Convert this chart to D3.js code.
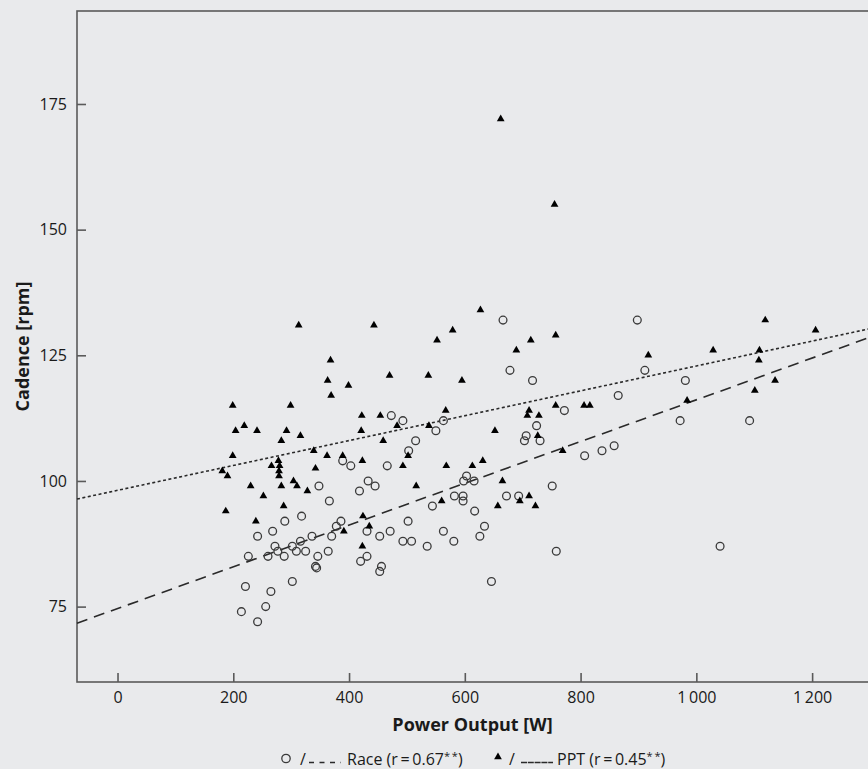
<!DOCTYPE html>
<html>
<head>
<meta charset="utf-8">
<script src="https://cdn.jsdelivr.net/npm/d3@7"></script>
<style>
  html, body { margin: 0; padding: 0; background: #e9eaec; }
  #chart { width: 868px; height: 769px; }
  text { font-family: "Open Sans", "Noto Sans", sans-serif; fill: #1a1a1a; }
</style>
</head>
<body>
<div id="chart"></div>
<script>
// Race: [power W, cadence rpm]
let racePoints = [
    [389,104],[403,103],[348,99],[366,96],[418,98],[433,100],[318,93],[289,92],[268,90],[242,89],
    [336,89],[370,89],[378,91],[386,92],[431,90],[272,87],[277,86],[302,87],[316,88],[309,86],
    [325,86],[288,85],[260,85],[226,85],[346,85],[364,86],[342,83],[344,82.7],[431,85],[420,84],
    [221,79],[265,78],[302,80],[256,75],[214,74],[242,72],[666,132],[678,122],[717,120],[473,113],
    [493,112],[563,112],[550,110],[515,108],[503,106],[724,111],[706,109],[703,108],[730,108],[466,103],
    [445,99],[603,101],[598,100],[616,100],[582,97],[597,97],[597,96],[544,95],[617,94],[672,97],
    [693,97],[751,99],[502,92],[453,89],[471,90],[493,88],[508,88],[535,87],[563,90],[581,88],
    [634,91],[626,89],[456,83],[453,82],[646,80],[758,86],[898,132],[911,122],[981,120],[865,117],
    [972,112],[1092,112],[858,107],[837,106],[807,105],[772,114],[1041,87]
];

// PPT: [power W, cadence rpm]
let pptPoints = [
    [313,131],[368,124],[363,120],[399,119],[369,117],[199,115],[299,115],[422,113],[204,110],[219,111],
    [241,110],[292,110],[316,109],[283,108],[421,110],[199,105],[339,106],[362,105],[389,105],[423,104],
    [278,104],[266,103],[280,103],[279,102],[279,101],[342,102.5],[181,102],[190,101],[230,99],[283,99],
    [304,100],[310,99],[328,98],[252,97],[287,95],[187,94],[239,92],[391,90],[424,93],[423,87],
    [435,91],[443,131],[627,134],[579,130],[552,128],[714,128],[757,129],[689,126],[470,121],[537,121],
    [595,120],[454,113],[567,114],[711,114],[708,113],[728,113],[757,115],[483,111],[538,111],[459,108],
    [652,110],[502,105],[726,109],[493,103],[568,103],[613,103],[631,104],[516,99],[560,96],[665,100],
    [657,95],[695,96],[711,97],[722,95],[1119,132],[1206,130],[917,125],[1029,126],[1109,126],[1108,124],
    [1136,120],[1101,118],[984,116],[806,115],[816,115],[769,106],[662,172],[755,155]
];

// fit lines, end points read at the plot edges
let raceFit = [[-70, 71.7], [1300, 128.6]];
let pptFit = [[-70, 96.4], [1300, 130.3]];

let xTicks = [0, 200, 400, 600, 800, 1000, 1200];
let yTicks = [75, 100, 125, 150, 175];
let xDomain = [-70, 1300];
let yDomain = [60, 193.5];

function draw_chart() {
    let width = 868, height = 769;
    let left = 77, top = 11, bottom = 682;

    let svg = d3.select('#chart').append('svg')
        .attr('width', width)
        .attr('height', height);

    svg.append('rect')
        .attr('width', width).attr('height', height)
        .attr('fill', '#e9eaec');

    let x = d3.scaleLinear().domain(xDomain).range([left, width + 2]);
    let y = d3.scaleLinear().domain(yDomain).range([bottom, top]);

    // frame (right side runs off the picture)
    svg.append('rect')
        .attr('x', left).attr('y', top)
        .attr('width', width + 10 - left).attr('height', bottom - top)
        .attr('fill', 'none')
        .attr('stroke', '#5a5a5a')
        .attr('stroke-width', 1.6);

    let fmt = d => d >= 1000 ? d3.format('d')(d).replace(/(\d)(\d{3})$/, '$1\u2009$2') : d;

    let xAxis = svg.append('g')
        .attr('transform', `translate(0,${bottom})`)
        .call(d3.axisBottom(x).tickValues(xTicks).tickSize(-9).tickPadding(10).tickFormat(fmt));
    let yAxis = svg.append('g')
        .attr('transform', `translate(${left},0)`)
        .call(d3.axisLeft(y).tickValues(yTicks).tickSize(-9).tickPadding(10));

    [xAxis, yAxis].forEach(g => {
        g.select('.domain').remove();
        g.selectAll('line').attr('stroke', '#5a5a5a').attr('stroke-width', 1.6);
        g.selectAll('text').attr('font-size', 16).attr('fill', '#1a1a1a')
            .attr('font-family', '"Open Sans", "Noto Sans", sans-serif');
    });

    // axis titles
    svg.append('text')
        .attr('x', (left + width) / 2).attr('y', 731)
        .attr('text-anchor', 'middle')
        .attr('font-size', 18).attr('font-weight', 'bold')
        .text('Power Output [W]');
    svg.append('text')
        .attr('transform', `translate(29,${(top + bottom) / 2}) rotate(-90)`)
        .attr('text-anchor', 'middle')
        .attr('font-size', 18).attr('font-weight', 'bold')
        .text('Cadence [rpm]');

    let plot = svg.append('g');
    let line = d3.line().x(d => x(d[0])).y(d => y(d[1]));

    plot.append('path')
        .datum(pptFit)
        .attr('d', line)
        .attr('fill', 'none')
        .attr('stroke', '#2a2a2a')
        .attr('stroke-width', 1.6)
        .attr('stroke-dasharray', '3,2.5');

    plot.append('path')
        .datum(raceFit)
        .attr('d', line)
        .attr('fill', 'none')
        .attr('stroke', '#2a2a2a')
        .attr('stroke-width', 1.6)
        .attr('stroke-dasharray', '11,7');

    plot.append('g')
        .selectAll('circle')
        .data(racePoints)
        .enter()
        .append('circle')
        .attr('cx', d => x(d[0]))
        .attr('cy', d => y(d[1]))
        .attr('r', 3.9)
        .attr('fill', 'none')
        .attr('stroke', '#3a3a3a')
        .attr('stroke-width', 1.3);

    let tri = d3.symbol().type(d3.symbolTriangle).size(26);
    plot.append('g')
        .selectAll('path')
        .data(pptPoints)
        .enter()
        .append('path')
        .attr('d', tri)
        .attr('transform', d => `translate(${x(d[0])},${y(d[1])})`)
        .attr('fill', '#000');

    draw_legend(svg);
}

function draw_legend(svg) {
    let ly = 765;
    let leg = svg.append('g').attr('font-size', 16);

    leg.append('circle')
        .attr('cx', 286).attr('cy', 758.5).attr('r', 4.2)
        .attr('fill', 'none').attr('stroke', '#3a3a3a').attr('stroke-width', 1.3);
    leg.append('text').attr('x', 300).attr('y', ly).text('/');
    leg.append('line')
        .attr('x1', 309).attr('x2', 341).attr('y1', 762.5).attr('y2', 762.5)
        .attr('stroke', '#2a2a2a').attr('stroke-width', 1.3)
        .attr('stroke-dasharray', '5,5.5');
    let t1 = leg.append('text').attr('x', 347).attr('y', ly);
    t1.append('tspan').text('Race (r\u2009=\u20090.67');
    t1.append('tspan').attr('font-size', 11).attr('dy', -5).text('*\u2009*');
    t1.append('tspan').attr('dy', 5).text(')');

    leg.append('path')
        .attr('d', d3.symbol().type(d3.symbolTriangle).size(26))
        .attr('transform', 'translate(498,757)')
        .attr('fill', '#000');
    leg.append('text').attr('x', 509).attr('y', ly).text('/');
    leg.append('line')
        .attr('x1', 521).attr('x2', 553).attr('y1', 762.5).attr('y2', 762.5)
        .attr('stroke', '#2a2a2a').attr('stroke-width', 1.3)
        .attr('stroke-dasharray', '6,0.8');
    let t2 = leg.append('text').attr('x', 557).attr('y', ly);
    t2.append('tspan').text('PPT (r\u2009=\u20090.45');
    t2.append('tspan').attr('font-size', 11).attr('dy', -5).text('*\u2009*');
    t2.append('tspan').attr('dy', 5).text(')');
}

draw_chart();
</script>
</body>
</html>
